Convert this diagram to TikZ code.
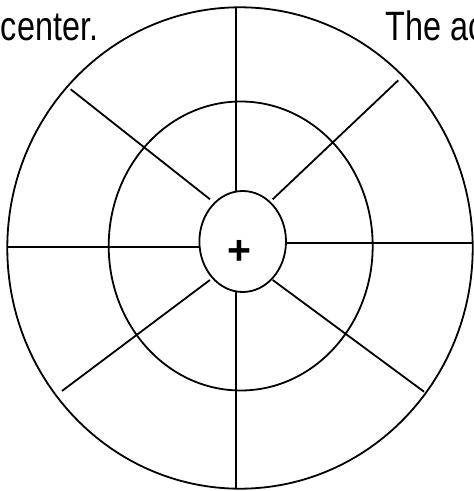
\documentclass[tikz,border=0pt]{standalone}
\usepackage{fontspec}
\setmainfont{Liberation Sans}
\newfontfamily\narrowsans{Liberation Sans}[FakeStretch=0.79]
\usetikzlibrary{positioning, shapes.geometric}
\definecolor{wheelInk}{HTML}{000000}

\begin{document}
\begin{tikzpicture}[x=1pt, y=1pt, line width=1.8pt, draw=wheelInk,
    spoke/.style={line width=1.8pt, draw=wheelInk},
    caption/.style={font=\narrowsans\fontsize{41}{41}\selectfont, anchor=base west, inner sep=0pt}]
  \useasboundingbox (0, 0) rectangle (474, 491);
  \clip (0, 0) rectangle (474, 491);
  \node[caption] (leftword) at (0, 450.3) {center.};
  \node[caption] (rightword) at (385, 450.3) {The ac};
  \draw (240, 243) ellipse [x radius=232.7, y radius=240.7];
  \draw (240.7, 245) ellipse [x radius=132, y radius=144.5];
  \node[draw=wheelInk, ellipse, line width=1.8pt, inner sep=0pt,
        minimum width=86.6pt, minimum height=101pt] (core) at (242.7, 249.5) {};
  \node[font=\fontsize{41}{41}\selectfont\bfseries, anchor=base, inner sep=0pt] (plus) at (239, 226) {+};
  \coordinate (nTop) at (236.3, 483.7);
  \coordinate (nTopIn) at (236.3, 300);
  \coordinate (nBot) at (236.3, 2.3);
  \coordinate (nBotIn) at (236.3, 199);
  \coordinate (nLeft) at (7.3, 244.3);
  \coordinate (nLeftIn) at (199.3, 244.3);
  \coordinate (nRight) at (472.7, 248);
  \coordinate (nRightIn) at (286, 248);
  \coordinate (nUL) at (70.7, 401.7);
  \coordinate (nULIn) at (210, 291.7);
  \coordinate (nUR) at (398.3, 410.7);
  \coordinate (nURIn) at (272.7, 291.7);
  \coordinate (nLL) at (62, 100);
  \coordinate (nLLIn) at (210, 211);
  \coordinate (nLR) at (424, 99.3);
  \coordinate (nLRIn) at (272.7, 211);
  \draw[spoke] (nTop) -- (nTopIn);
  \draw[spoke] (nBotIn) -- (nBot);
  \draw[spoke] (nLeft) -- (nLeftIn);
  \draw[spoke] (nRightIn) -- (nRight);
  \draw[spoke] (nUL) -- (nULIn);
  \draw[spoke] (nUR) -- (nURIn);
  \draw[spoke] (nLL) -- (nLLIn);
  \draw[spoke] (nLR) -- (nLRIn);
\end{tikzpicture}
\end{document}
